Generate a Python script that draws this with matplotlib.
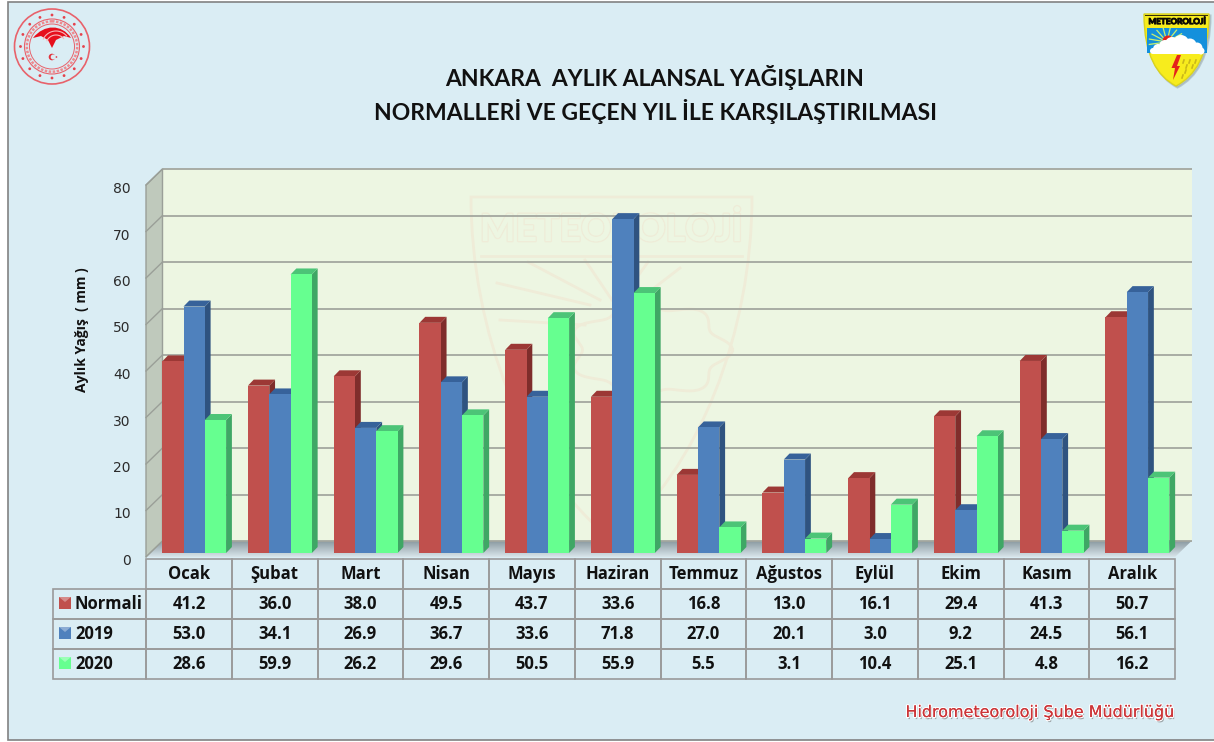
import numpy as np
import matplotlib
matplotlib.use("Agg")
import matplotlib.pyplot as plt
from matplotlib.patches import Polygon, Rectangle, Circle, PathPatch, Wedge
from matplotlib.path import Path
from matplotlib.table import Table
from matplotlib.transforms import Affine2D
import matplotlib.patheffects as pe

months = ["Ocak", "Şubat", "Mart", "Nisan", "Mayıs", "Haziran", "Temmuz",
          "Ağustos", "Eylül", "Ekim", "Kasım", "Aralık"]
normali = [41.2, 36.0, 38.0, 49.5, 43.7, 33.6, 16.8, 13.0, 16.1, 29.4, 41.3, 50.7]
y2019 = [53.0, 34.1, 26.9, 36.7, 33.6, 71.8, 27.0, 20.1, 3.0, 9.2, 24.5, 56.1]
y2020 = [28.6, 59.9, 26.2, 29.6, 50.5, 55.9, 5.5, 3.1, 10.4, 25.1, 4.8, 16.2]
series_names = ["Normali", "2019", "2020"]
series_values = [normali, y2019, y2020]
yticks = list(range(0, 90, 10))

W, H = 1214, 742
BG = "#daedf4"
WALL = "#edf6e2"
SIDE = "#bfc9bc"
GRID = "#a3a79f"
TXT = "#111111"
WM = "#efecd8"
styles = [("#c0504d", "#7f2d2b", "#9c3835"),
          ("#4f81bd", "#2f5380", "#37629a"),
          ("#66ff90", "#3fa765", "#4cc477")]
FONT_TABLE = "Open Sans"

fig = plt.figure(figsize=(W / 100, H / 100), dpi=100, facecolor="white")

# pixel-space layer for the frame, logos and titles
bg = fig.add_axes([0, 0, 1, 1], zorder=0)
bg.set_xlim(0, W)
bg.set_ylim(H, 0)
bg.axis("off")
bg.add_patch(Rectangle((7.5, 1.5), W, 738.5, fc=BG, ec="#828282", lw=1.2))

# chart axes: the front plane of the 3-D box
ax = fig.add_axes([146 / W, 1 - 557 / H, 1029 / W, 372 / H], zorder=1)
ax.set_xlim(0, 12)
ax.set_ylim(0, 80)
ax.patch.set_visible(False)
for s in ax.spines.values():
    s.set_visible(False)
ax.set_xticks([])
ax.set_yticks(yticks)
ax.tick_params(axis="y", length=0, pad=11, labelsize=10, labelcolor="#2b2b2b")
for lab in ax.get_yticklabels():
    lab.set_transform(lab.get_transform() + Affine2D().translate(0, -2.5))
px = bg.transData

PX_X = 12 / 1029
PX_Y = 80 / 372
DX, DY = 16.5 * PX_X, 16 * PX_Y     # box depth
dx, dy = 5.8 * PX_X, 6 * PX_Y       # bar depth
LIFT = 4 * PX_Y
OFF = 16.2 * PX_X
BW = 21.3 * PX_X


def poly(pts, **kw):
    kw.setdefault("clip_on", False)
    p = Polygon(pts, closed=True, **kw)
    ax.add_patch(p)
    return p


# walls
poly([(DX, DY), (12 + DX, DY), (12 + DX, 80 + DY), (DX, 80 + DY)], fc=WALL, ec="none", zorder=1)
poly([(0, 0), (DX, DY), (DX, 80 + DY), (0, 80)], fc=SIDE, ec="#9a9f98", lw=1.0, zorder=1)
# floor, shaded front to back
n = 16
c0, c1 = np.array([0.84, 0.89, 0.91]), np.array([0.53, 0.59, 0.62])
for i in range(n):
    a, b = i / n, (i + 1) / n
    poly([(a * DX, a * DY), (12 + a * DX, a * DY), (12 + b * DX, b * DY), (b * DX, b * DY)],
         fc=tuple(c0 + (c1 - c0) * a), ec="none", zorder=1.5)

# watermark (faint shield behind the bars)
shield = Path([(471, 197), (752, 197), (752, 330), (700, 470), (612, 540),
               (524, 470), (471, 330), (471, 197), (471, 197)],
              [Path.MOVETO, Path.LINETO, Path.CURVE4, Path.CURVE4, Path.CURVE4,
               Path.CURVE4, Path.CURVE4, Path.CURVE4, Path.CLOSEPOLY])
ax.add_patch(PathPatch(shield, transform=px, fc="none", ec=WM, lw=2, zorder=2, clip_on=False))
ax.text(611, 229, "METEOROLOJİ", transform=px, ha="center", va="center", fontsize=27,
        family="Lato", fontweight="bold", color=WALL, zorder=2, clip_on=False,
        path_effects=[pe.withStroke(linewidth=2, foreground=WM), pe.Normal()])
ax.plot([481, 742], [256, 256], transform=px, color=WM, lw=2, zorder=2)
for (x0, y0, x1, y1) in [(590, 305, 497, 283), (600, 300, 528, 262), (612, 300, 585, 260),
                         (622, 298, 648, 262), (632, 305, 680, 268), (585, 325, 500, 320)]:
    ax.plot([x0, x1], [y0, y1], transform=px, color=WM, lw=2, zorder=2)
cloud_t = np.linspace(0, 2 * np.pi, 200)
ax.plot(650 + 75 * np.cos(cloud_t) * (1 + .1 * np.cos(7 * cloud_t)),
        350 + 45 * np.sin(cloud_t) * (1 + .1 * np.cos(7 * cloud_t)),
        transform=px, color=WM, lw=2, zorder=2)

# gridlines on back wall and left wall
for t in yticks:
    ax.plot([DX, 12 + DX], [t + DY, t + DY], color=GRID, lw=1.3, zorder=3, clip_on=False,
            solid_capstyle="butt")
    ax.plot([0, DX], [t, t + DY], color="#9a9f98", lw=1.0, zorder=3, clip_on=False)

# 3-D bars
z = 5
for i in range(len(months)):
    for j, vals in enumerate(series_values):
        v = vals[i]
        x0 = i + OFF + j * BW
        x1 = x0 + BW
        front, side, top = styles[j]
        poly([(x1, LIFT), (x1 + dx, LIFT + dy), (x1 + dx, LIFT + v + dy), (x1, LIFT + v)],
             fc=side, ec="none", zorder=z)
        poly([(x0, LIFT + v), (x1, LIFT + v), (x1 + dx, LIFT + v + dy), (x0 + dx, LIFT + v + dy)],
             fc=top, ec="none", zorder=z)
        ax.bar(x0, v, width=BW, bottom=LIFT, align="edge", color=front, edgecolor="none",
               zorder=z + 0.5, clip_on=False)
        z += 1

# data table
tx0, tx1 = 53, 1175
ty0, ty1 = 559, 679
tbl = Table(ax, bbox=[(tx0 - 146) / 1029, (557 - ty1) / 372, (tx1 - tx0) / 1029, (ty1 - ty0) / 372])
LW = 93 / (tx1 - tx0)
CW = 85.75 / (tx1 - tx0)
RH = 0.25


def cell(r, c, w, text, loc="center"):
    ce = tbl.add_cell(r, c, width=w, height=RH, text=text, loc=loc, facecolor="none", edgecolor="#9a9a9a")
    ce.set_linewidth(1.2)
    t = ce.get_text()
    t.set_fontsize(12)
    t.set_fontweight("bold")
    t.set_family(FONT_TABLE)
    t.set_color(TXT)
    return ce


for c, m in enumerate(months):
    cell(0, c + 1, CW, m)
for r, (name, vals) in enumerate(zip(series_names, series_values)):
    ce = cell(r + 1, 0, LW, name, loc="left")
    ce.PAD = 22 / 93
    for c, v in enumerate(vals):
        cell(r + 1, c + 1, CW, f"{v:.1f}")
tbl.auto_set_font_size(False)
ax.add_table(tbl)

# legend keys in the table's row headers
for r, (front, side, top) in enumerate(styles):
    yc = 603 + r * 30
    ax.add_patch(Rectangle((59, yc - 6), 12, 12, transform=px, fc=front, ec="none", zorder=30, clip_on=False))
    ax.add_patch(Polygon([(59, yc - 6), (71, yc - 6), (65, yc - 1)], transform=px,
                         fc=(1, 1, 1, 0.35), ec="none", zorder=31, clip_on=False))

# axis label, titles, footer
bg.text(82, 330, "Aylık Yağış  ( mm )", rotation=90, ha="center", va="center",
        fontsize=10, fontweight="bold", family="Open Sans", color=TXT)
bg.text(655, 78, "ANKARA  AYLIK ALANSAL YAĞIŞLARIN", ha="center", va="center",
        fontsize=16.5, fontweight="bold", family="Lato", color=TXT)
bg.text(655.5, 112, "NORMALLERİ VE GEÇEN YIL İLE KARŞILAŞTIRILMASI", ha="center", va="center",
        fontsize=16.5, fontweight="bold", family="Lato", color=TXT)
bg.text(1041, 712, "Hidrometeoroloji Şube Müdürlüğü", ha="center", va="center",
        fontsize=11.5, family="DejaVu Sans", color="#cc3538",
        path_effects=[pe.withSimplePatchShadow(offset=(1, -1.5), shadow_rgbFace="#777777", alpha=0.6),
                      pe.withStroke(linewidth=1.6, foreground="#ffffff"), pe.Normal()])

# ministry seal (top-left)
RED = "#e5424c"
cx, cy = 52, 46.5
bg.add_patch(Circle((cx, cy), 37.5, fc="none", ec="#e8626b", lw=1.2))
for a in np.arange(0, 360, 22.5):
    bg.add_patch(Circle((cx + 31.5 * np.cos(np.radians(a)), cy + 31.5 * np.sin(np.radians(a))), 1.4,
                        fc=RED, ec="none"))
bg.add_patch(Circle((cx, cy), 27.5, fc="none", ec="#e8626b", lw=0.8))
bg.add_patch(Circle((cx, cy), 25.2, fc="none", ec="#ee8a90", lw=1.8, ls=(0, (1, 0.6))))
bg.add_patch(Circle((cx, cy), 22.5, fc="none", ec="#e8626b", lw=0.7))
wing = Path([(33, 38), (44, 24), (62, 24), (71, 38), (64, 36), (56, 40), (52, 48),
             (48, 40), (41, 36), (33, 38)],
            [Path.MOVETO, Path.CURVE4, Path.CURVE4, Path.CURVE4, Path.LINETO, Path.LINETO,
             Path.LINETO, Path.LINETO, Path.LINETO, Path.CLOSEPOLY])
bg.add_patch(PathPatch(wing, fc="#e60f1c", ec="none"))
for r0 in (14, 10):
    t = np.radians(np.linspace(205, 320, 30))
    bg.plot(56 + r0 * np.cos(t), 45 + r0 * np.sin(t), color="#f8b8ba", lw=0.8)
bg.add_patch(Circle((52, 57), 3.3, fc="#e2333d", ec="none"))
bg.add_patch(Circle((53.2, 57), 2.5, fc=BG, ec="none"))
bg.add_patch(Circle((56.5, 57), 0.8, fc="#e2333d", ec="none"))

# meteorology badge (top-right)
badge = Path([(1144, 14), (1209, 14), (1209, 55), (1195, 76), (1176, 86),
              (1157, 76), (1144, 55), (1144, 14), (1144, 14)],
             [Path.MOVETO, Path.LINETO, Path.CURVE4, Path.CURVE4, Path.CURVE4,
              Path.CURVE4, Path.CURVE4, Path.CURVE4, Path.CLOSEPOLY])
bg.add_patch(PathPatch(Path(badge.vertices + [1.5, 1.5], badge.codes), fc="#9fb0b5", ec="#9fb0b5", lw=1.5, alpha=.6))
bg.add_patch(PathPatch(badge, fc="#f7ec1d", ec="#d9d21f", lw=1.0, zorder=2))
bg.add_patch(Rectangle((1146.5, 27.5), 60, 25, fc="#1490dc", ec="none", zorder=2.1))
bg.add_patch(Rectangle((1145, 14.5), 63, 1.6, fc="#3a3208", ec="none", zorder=2.1))
bg.text(1176.5, 21.6, "METEOROLOJİ", ha="center", va="center", fontsize=5.9, fontweight="bold",
        family="Lato", color="#0c0a04", zorder=3,
        path_effects=[pe.withStroke(linewidth=0.7, foreground="#0c0a04")])
for a in np.arange(170, 330, 22):
    bg.plot([1167, 1167 + 18 * np.cos(np.radians(a))], [42, 42 + 14 * np.sin(np.radians(a))],
            color="#c8f070", lw=0.9, zorder=2.2)
bg.add_patch(Wedge((1168, 41), 5.5, 180, 360, fc="#e2221a", ec="none", zorder=2.3))
for (x, y, r) in [(1158, 49, 5), (1165, 46, 6), (1172, 44, 7), (1181, 43, 8), (1190, 45, 6.5),
                  (1197, 48, 5.5), (1201, 51, 3.5), (1153, 51, 3)]:
    bg.add_patch(Circle((x, y), r, fc="white", ec="none", zorder=2.4))
bg.add_patch(Rectangle((1153, 49), 49, 5, fc="white", ec="none", zorder=2.4))
for (x, y) in [(1184, 60), (1190, 60), (1196, 60), (1187, 65), (1193, 65), (1186, 70), (1183, 75)]:
    bg.plot([x, x - 1], [y, y + 3], color="#c9b71a", lw=1.2, zorder=2.45)
bg.add_patch(Polygon([(1177, 55), (1181, 55), (1177, 66), (1180, 66), (1173, 80),
                      (1175, 68), (1171.5, 68)], fc="#e4231b", ec="none", zorder=2.5))

fig.savefig("out.png", dpi=100, facecolor="white")
